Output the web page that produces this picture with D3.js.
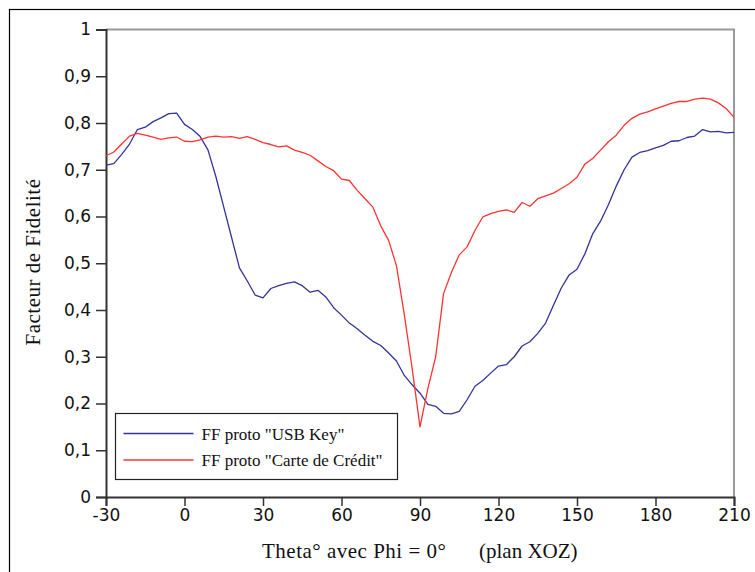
<!DOCTYPE html>
<html>
<head>
<meta charset="utf-8">
<script src="https://cdn.jsdelivr.net/npm/d3@7"></script>
<style>
  body { margin: 0; background: #fff; }
  svg { display: block; }
</style>
</head>
<body>
<svg id="chart" width="755" height="572"></svg>
<script>
// angles theta (degrees), pas de 3°
const theta = d3.range(-30, 211, 3)

// FF proto "USB Key"
const usbKey = [
    0.710, 0.713, 0.733, 0.755, 0.786, 0.791, 0.803, 0.811, 0.820, 0.821,
    0.797, 0.786, 0.771, 0.742, 0.685, 0.620, 0.555, 0.490, 0.462, 0.432,
    0.426, 0.446, 0.452, 0.457, 0.460, 0.452, 0.438, 0.442, 0.428, 0.405,
    0.389, 0.372, 0.360, 0.346, 0.333, 0.324, 0.308, 0.291, 0.260, 0.240,
    0.222, 0.198, 0.194, 0.179, 0.178, 0.183, 0.208, 0.237, 0.249, 0.265,
    0.280, 0.283, 0.300, 0.323, 0.332, 0.350, 0.372, 0.410, 0.447, 0.475,
    0.487, 0.520, 0.563, 0.590, 0.625, 0.665, 0.700, 0.727, 0.737, 0.741,
    0.747, 0.752, 0.761, 0.762, 0.769, 0.772, 0.786, 0.781, 0.782, 0.779,
    0.780
]

// FF proto "Carte de Crédit"
const carteCredit = [
    0.730, 0.738, 0.755, 0.772, 0.778, 0.774, 0.770, 0.765, 0.768, 0.770,
    0.761, 0.760, 0.764, 0.770, 0.772, 0.770, 0.771, 0.767, 0.771, 0.765,
    0.758, 0.754, 0.749, 0.751, 0.742, 0.737, 0.731, 0.719, 0.707, 0.698,
    0.680, 0.677, 0.656, 0.638, 0.620, 0.580, 0.549, 0.495, 0.390, 0.275,
    0.150, 0.232, 0.300, 0.435, 0.480, 0.518, 0.535, 0.570, 0.599, 0.606,
    0.611, 0.614, 0.609, 0.630, 0.622, 0.638, 0.644, 0.650, 0.660, 0.670,
    0.684, 0.712, 0.724, 0.742, 0.760, 0.774, 0.795, 0.810, 0.819, 0.824,
    0.830, 0.836, 0.842, 0.846, 0.846, 0.851, 0.853, 0.851, 0.843, 0.831,
    0.812
]

const xTicks = [-30, 0, 30, 60, 90, 120, 150, 180, 210]
const yTicks = [0, 0.1, 0.2, 0.3, 0.4, 0.5, 0.6, 0.7, 0.8, 0.9, 1]

const series = [
    { name: 'FF proto "USB Key"', values: usbKey, color: '#333399' },
    { name: 'FF proto "Carte de Crédit"', values: carteCredit, color: '#ff3333' }
]

const svg = d3.select('#chart')

// zone du graphique
const plot = { left: 106, right: 734, top: 29.5, bottom: 497 }

const x = d3.scaleLinear().domain([-30, 210]).range([plot.left, plot.right])
const y = d3.scaleLinear().domain([0, 1]).range([plot.bottom, plot.top])

// cadre extérieur
svg.append('rect')
    .attr('x', 9.5)
    .attr('y', 9.5)
    .attr('width', 900)
    .attr('height', 900)
    .attr('fill', 'none')
    .attr('stroke', '#000')
    .attr('stroke-width', 1.2)

// cadre gris (haut et droite)
svg.append('path')
    .attr('d', `M${plot.left},${plot.top}H${plot.right}V${plot.bottom}`)
    .attr('fill', 'none')
    .attr('stroke', '#999')
    .attr('stroke-width', 2)

// axe Y
const yAxis = svg.append('g')
    .attr('transform', `translate(${plot.left},0)`)
    .call(d3.axisLeft(y)
        .tickValues(yTicks)
        .tickSize(10)
        .tickPadding(5)
        .tickFormat((d) => d3.format('.1~f')(d).replace('.', ',')))
yAxis.select('.domain').attr('stroke', '#333').attr('stroke-width', 2)
yAxis.selectAll('.tick line').attr('stroke', '#333').attr('stroke-width', 1.5)
yAxis.selectAll('.tick text')
    .attr('font-family', 'DejaVu Sans')
    .attr('font-size', '17px')
    .attr('fill', '#111')

// axe X (tiret simple pour les négatifs)
const xAxis = svg.append('g')
    .attr('transform', `translate(0,${plot.bottom})`)
    .call(d3.axisBottom(x)
        .tickValues(xTicks)
        .tickSize(9)
        .tickPadding(3)
        .tickFormat((d) => String(d)))
xAxis.select('.domain').attr('stroke', '#333').attr('stroke-width', 2)
xAxis.selectAll('.tick line').attr('stroke', '#333').attr('stroke-width', 1.5)
xAxis.selectAll('.tick text')
    .attr('font-family', 'DejaVu Sans')
    .attr('font-size', '17px')
    .attr('fill', '#111')

// titres des axes
svg.append('text')
    .attr('transform', 'translate(40,262) rotate(-90)')
    .attr('text-anchor', 'middle')
    .attr('font-family', 'Liberation Serif')
    .attr('font-size', '21px')
    .attr('letter-spacing', '0.5px')
    .attr('fill', '#111')
    .text('Facteur de Fidelité')

svg.append('text')
    .attr('x', 262)
    .attr('y', 558)
    .attr('font-family', 'Liberation Serif')
    .attr('font-size', '21px')
    .attr('letter-spacing', '0.5px')
    .attr('fill', '#111')
    .text('Theta° avec Phi = 0°')

svg.append('text')
    .attr('x', 479)
    .attr('y', 558)
    .attr('font-family', 'Liberation Serif')
    .attr('font-size', '21px')
    .attr('fill', '#111')
    .text('(plan XOZ)')

// courbes
const line = d3.line()
    .x((d, i) => x(theta[i]))
    .y((d) => y(d))

svg.selectAll('.serie')
    .data(series)
    .enter()
    .append('path')
    .attr('class', 'serie')
    .attr('d', (d) => line(d.values))
    .attr('fill', 'none')
    .attr('stroke', (d) => d.color)
    .attr('stroke-width', 1.3)
    .attr('stroke-linejoin', 'round')

// légende
const legend = svg.append('g').attr('transform', 'translate(115.5,413.5)')
legend.append('rect')
    .attr('width', 282)
    .attr('height', 66)
    .attr('fill', '#fff')
    .attr('stroke', '#222')
    .attr('stroke-width', 1.2)

const item = legend.selectAll('.item')
    .data(series)
    .enter()
    .append('g')
    .attr('class', 'item')
    .attr('transform', (d, i) => `translate(0,${20 + i * 26.5})`)

item.append('line')
    .attr('x1', 8)
    .attr('x2', 78)
    .attr('stroke', (d) => d.color)
    .attr('stroke-width', 1.3)

item.append('text')
    .attr('x', 86)
    .attr('y', 6)
    .attr('font-family', 'Liberation Serif')
    .attr('font-size', '17px')
    .attr('fill', '#111')
    .text((d) => d.name)
</script>
</body>
</html>
